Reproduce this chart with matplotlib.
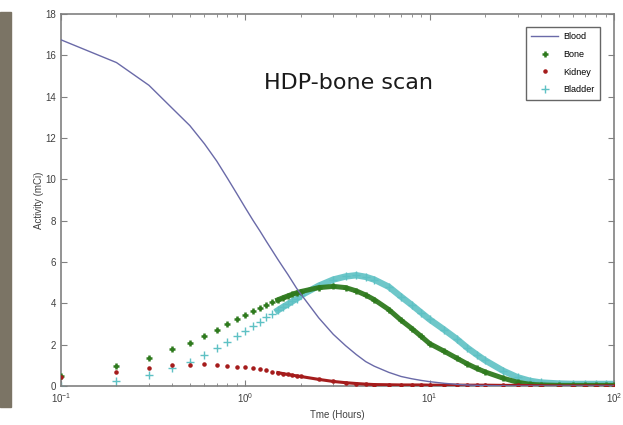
import numpy as np
import matplotlib.pyplot as plt
from matplotlib.patches import Rectangle
from matplotlib.lines import Line2D
from matplotlib.ticker import LogLocator, FixedLocator

plt.rcParams['font.family'] = ['Liberation Sans Narrow', 'Liberation Sans', 'DejaVu Sans']
plt.rcParams['mathtext.fontset'] = 'custom'
plt.rcParams['mathtext.rm'] = 'Liberation Sans Narrow'

# sample times (hours)
time_h = [0.1, 0.2, 0.3, 0.4, 0.5, 0.6, 0.7, 0.8, 0.9, 1.0,
          1.1, 1.2, 1.3, 1.4, 1.5, 1.6, 1.7, 1.8, 1.9, 2.0,
          2.5, 3.0, 3.5, 4.0, 4.5, 5.0, 6.0, 7.0, 8.0, 9.0,
          10, 12, 14, 16, 18, 20, 25, 30, 35, 40,
          50, 60, 70, 80, 90, 100]

blood = [16.75, 15.65, 14.55, 13.45, 12.6, 11.72, 10.88, 10.05, 9.3, 8.62,
         8.02, 7.5, 7.0, 6.55, 6.13, 5.75, 5.4, 5.05, 4.72, 4.45,
         3.3, 2.5, 1.95, 1.52, 1.18, 0.96, 0.66, 0.46, 0.35, 0.27,
         0.21, 0.13, 0.08, 0.05, 0.03, 0.02, 0.01, 0.0, 0.0, 0.0,
         0.0, 0.0, 0.0, 0.0, 0.0, 0.0]

bone = [0.48, 0.98, 1.37, 1.77, 2.10, 2.43, 2.71, 3.0, 3.24, 3.43,
        3.63, 3.79, 3.93, 4.06, 4.17, 4.27, 4.36, 4.44, 4.51, 4.57,
        4.76, 4.82, 4.76, 4.6, 4.4, 4.18, 3.7, 3.18, 2.78, 2.4,
        2.05, 1.68, 1.35, 1.07, 0.85, 0.68, 0.38, 0.18, 0.08, 0.05,
        0.03, 0.03, 0.03, 0.03, 0.03, 0.03]

kidney = [0.42, 0.69, 0.89, 1.0, 1.04, 1.05, 1.04, 0.98, 0.94, 0.90,
          0.86, 0.82, 0.76, 0.70, 0.65, 0.60, 0.56, 0.52, 0.49, 0.46,
          0.32, 0.22, 0.16, 0.12, 0.09, 0.07, 0.06, 0.05, 0.05, 0.05,
          0.04, 0.04, 0.04, 0.04, 0.04, 0.04, 0.03, 0.03, 0.02, 0.01,
          0.0, 0.0, 0.0, 0.0, 0.0, 0.0]

bladder = [0.02, 0.26, 0.53, 0.85, 1.15, 1.5, 1.82, 2.12, 2.42, 2.68,
           2.92, 3.12, 3.32, 3.5, 3.66, 3.82, 3.96, 4.1, 4.22, 4.38,
           4.85, 5.15, 5.3, 5.36, 5.28, 5.15, 4.8, 4.32, 3.92, 3.55,
           3.22, 2.72, 2.28, 1.85, 1.52, 1.24, 0.74, 0.42, 0.25, 0.17,
           0.12, 0.1, 0.1, 0.1, 0.1, 0.1]

y_ticks = [0, 2, 4, 6, 8, 10, 12, 14, 16, 18]

t = np.array(time_h)
dense = t >= 1.5

c_blood = '#6a6aa8'
c_bone = '#2f7a1e'
c_kidney = '#a51c1c'
c_bladder = '#5ec1c4'

fig = plt.figure(figsize=(6.23, 4.25), dpi=100)
fig.patches.append(Rectangle((0, 0.042), 11 / 623, 0.929,
                             transform=fig.transFigure, color='#7b7465', zorder=0))

ax = fig.add_axes([61 / 623, 1 - 386 / 425, 553 / 623, 372 / 425])

ax.plot(t, blood, color=c_blood, lw=1.0, zorder=5)

# dense part of the sampled curves merges into a thick band
ax.plot(t[dense], np.array(bladder)[dense], color=c_bladder, lw=4.6, alpha=0.9, zorder=2)
ax.plot(t[dense], np.array(bone)[dense], color=c_bone, lw=3.6, alpha=0.95, zorder=3)
ax.plot(t[dense], np.array(kidney)[dense], color=c_kidney, lw=2.2, zorder=4)

ax.plot(t, bladder, ls='none', marker='+', ms=6, mew=1.0, color=c_bladder, zorder=2)
ax.plot(t, bone, ls='none', marker='+', ms=5, mew=1.8, color=c_bone, zorder=3)
ax.plot(t, kidney, ls='none', marker='.', ms=4.5, color=c_kidney, zorder=4)

ax.set_xscale('log')
ax.set_xlim(0.1, 100)
ax.set_ylim(0, 18)
ax.yaxis.set_major_locator(FixedLocator(y_ticks))
ax.xaxis.set_major_locator(LogLocator(base=10, numticks=10))
ax.xaxis.set_minor_locator(LogLocator(base=10, subs=np.arange(2, 10), numticks=10))

for s in ax.spines.values():
    s.set_color('#808080')
    s.set_linewidth(1.2)
ax.tick_params(which='both', direction='in', top=True, right=True,
               colors='#808080', labelcolor='#404040', labelsize=7)
ax.tick_params(which='major', length=4)
ax.tick_params(which='minor', length=2.5)

ax.set_xlabel('Tme (Hours)', fontsize=7, color='#404040', labelpad=4)
ax.set_ylabel('Activity (mCi)', fontsize=7, color='#404040', labelpad=1)

ax.text(0.52, 0.815, 'HDP-bone scan', transform=ax.transAxes, ha='center', va='center',
        fontsize=16, family='DejaVu Sans', color='#1a1a1a')

handles = [
    Line2D([], [], color=c_blood, lw=1.0),
    Line2D([], [], ls='none', marker='+', ms=5, mew=1.8, color=c_bone),
    Line2D([], [], ls='none', marker='.', ms=4.5, color=c_kidney),
    Line2D([], [], ls='none', marker='+', ms=6, mew=1.0, color=c_bladder),
]
leg = ax.legend(handles, ['Blood', 'Bone', 'Kidney', 'Bladder'],
                loc='upper right', bbox_to_anchor=(0.975, 0.965), borderaxespad=0,
                fontsize=6.5, frameon=True, fancybox=False,
                handlelength=3.0, borderpad=0.6, labelspacing=0.95,
                handletextpad=0.6)
leg.get_frame().set_edgecolor('#404040')
leg.get_frame().set_linewidth(1.0)

fig.savefig('out.png', dpi=100)
